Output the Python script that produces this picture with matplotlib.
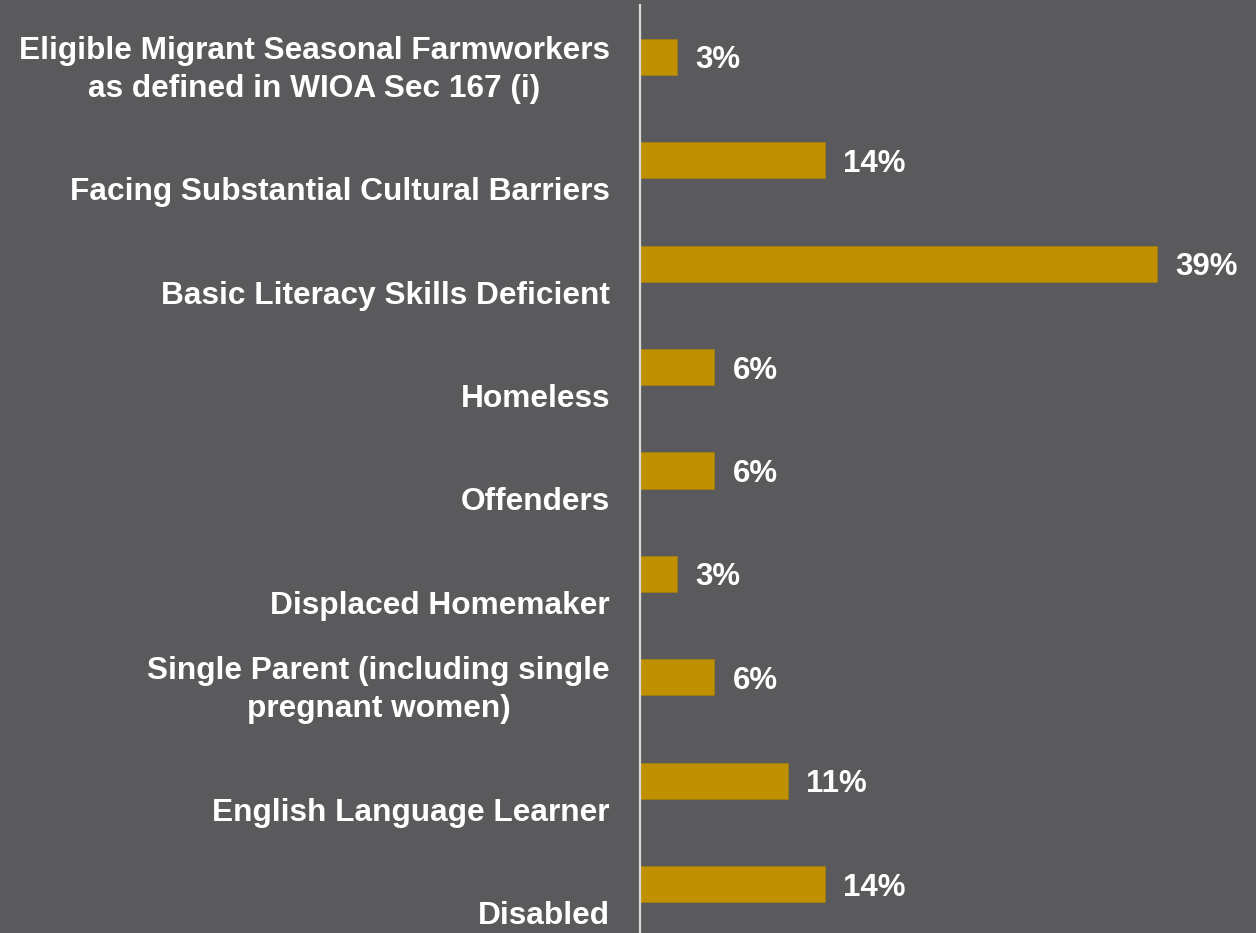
import matplotlib
matplotlib.use("Agg")
import matplotlib.pyplot as plt
import matplotlib.transforms as mtransforms

categories = [
    "Eligible Migrant Seasonal Farmworkers\nas defined in WIOA Sec 167 (i)",
    "Facing Substantial Cultural Barriers",
    "Basic Literacy Skills Deficient",
    "Homeless",
    "Offenders",
    "Displaced Homemaker",
    "Single Parent (including single\npregnant women)",
    "English Language Learner",
    "Disabled",
]
values = [2.8, 13.9, 38.9, 5.6, 5.6, 2.8, 5.6, 11.1, 13.9]

BG = "#5A5A5C"
BAR = "#BF9000"
plt.rcParams["font.family"] = ["Liberation Sans", "DejaVu Sans"]

fig = plt.figure(figsize=(12.56, 9.33), dpi=100, facecolor=BG)
ax = fig.add_axes([640 / 1256, 0, 1 - 640 / 1256, 1 - 5 / 933])
ax.set_facecolor(BG)

pos = list(range(len(categories)))
ax.barh(pos, values, height=0.35, color=BAR, edgecolor="#A07C10", linewidth=0.6)

ax.set_xlim(0, 616 / 13.3)
ax.set_ylim(8 + 49 / 103.4, -52 / 103.4)

for s in ["top", "right", "bottom"]:
    ax.spines[s].set_visible(False)
ax.spines["left"].set_color("#D9D9D9")
ax.spines["left"].set_linewidth(1.6)
ax.set_xticks([])
ax.set_yticks([])

trans = mtransforms.blended_transform_factory(fig.transFigure, ax.transData)
for p, lab in zip(pos, categories):
    fig.text(610 / 1256, p + 40 / 103.4, lab, transform=trans, ha="right",
             va="baseline", multialignment="center", color="white",
             fontsize=22.8, fontweight="bold", linespacing=1.36)

for p, v in zip(pos, values):
    ax.annotate(f"{round(v)}%", xy=(v, p), xytext=(13, 0),
                textcoords="offset points", ha="left", va="center_baseline",
                color="white", fontsize=22.5, fontweight="bold")

fig.savefig("out.png", dpi=100, facecolor=BG)
